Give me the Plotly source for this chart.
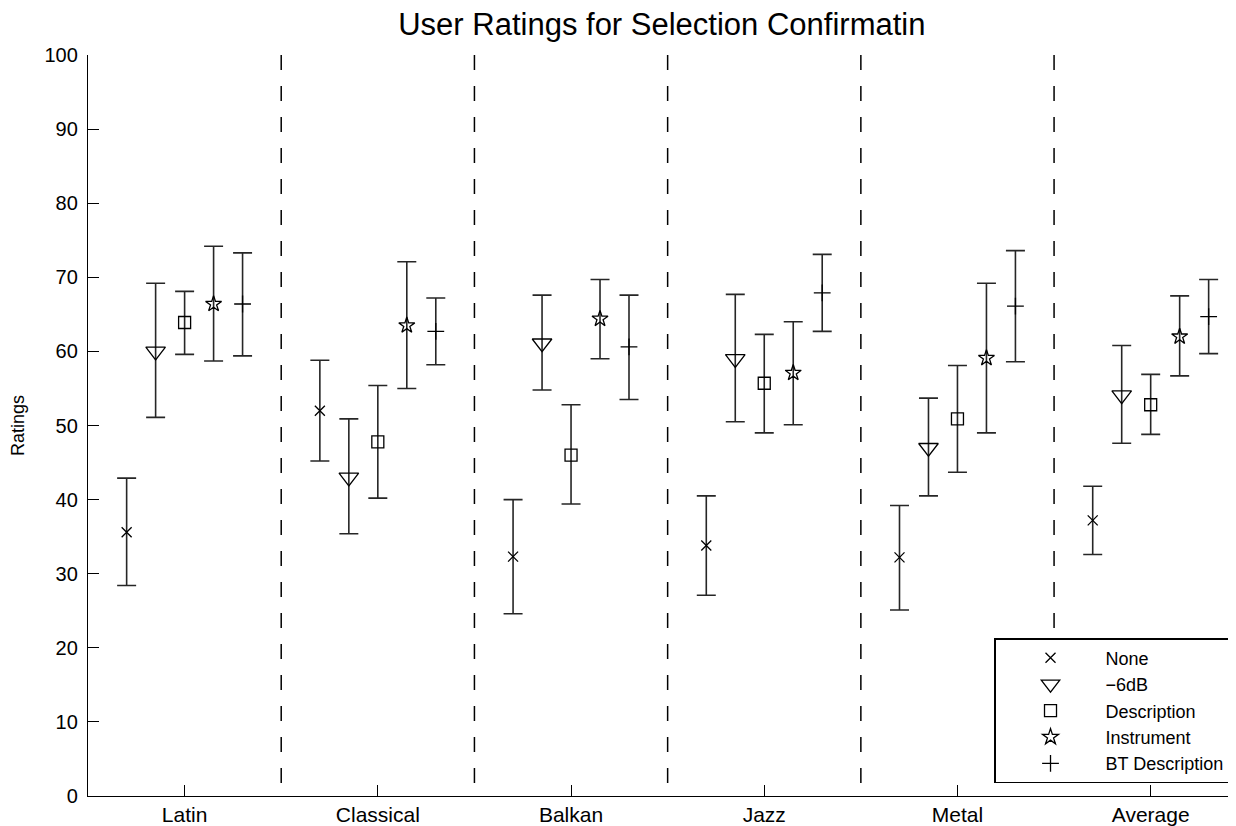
import plotly.graph_objects as go

categories = ["Latin", "Classical", "Balkan", "Jazz", "Metal", "Average"]
series_names = ["None", "\u22126dB", "Description", "Instrument", "BT Description"]

none_mean = [35.6, 52.0, 32.3, 33.8, 32.2, 37.2]
none_hi = [42.9, 58.8, 40.0, 40.5, 39.2, 41.8]
none_lo = [28.4, 45.2, 24.6, 27.1, 25.1, 32.6]

db6_mean = [60.0, 43.0, 61.1, 59.0, 47.0, 54.1]
db6_hi = [69.2, 50.9, 67.6, 67.7, 53.7, 60.8]
db6_lo = [51.1, 35.4, 54.8, 50.5, 40.5, 47.6]

desc_mean = [63.9, 47.8, 46.0, 55.7, 50.9, 52.8]
desc_hi = [68.1, 55.4, 52.8, 62.3, 58.1, 56.9]
desc_lo = [59.6, 40.2, 39.4, 49.0, 43.7, 48.8]

inst_mean = [66.4, 63.5, 64.4, 57.1, 59.1, 62.0]
inst_hi = [74.2, 72.1, 69.7, 64.0, 69.2, 67.5]
inst_lo = [58.7, 55.0, 59.0, 50.1, 49.0, 56.7]

bt_mean = [66.4, 62.7, 60.6, 67.9, 66.1, 64.7]
bt_hi = [73.3, 67.2, 67.6, 73.1, 73.6, 69.7]
bt_lo = [59.4, 58.2, 53.5, 62.7, 58.6, 59.7]

y_ticks = list(range(0, 101, 10))

series = [
    (none_mean, none_hi, none_lo, "x-thin-open", 10),
    (db6_mean, db6_hi, db6_lo, "triangle-down-open", 17),
    (desc_mean, desc_hi, desc_lo, "square-open", 12),
    (inst_mean, inst_hi, inst_lo, "star-open", 12),
    (bt_mean, bt_hi, bt_lo, "cross-thin-open", 12),
]

FONT = "Liberation Sans, Arial, Helvetica, sans-serif"
group_step = 0.15

fig = go.Figure()
n_series = len(series)
for k, (mean, hi, lo, sym, size) in enumerate(series):
    off = (k - (n_series - 1) / 2) * group_step
    xs = [i + 1 + off for i in range(len(categories))]
    fig.add_trace(go.Scatter(
        x=xs, y=mean, mode="markers", name=series_names[k],
        marker=dict(symbol=sym, size=size, color="black",
                    line=dict(color="black", width=1.3)),
        error_y=dict(type="data", symmetric=False,
                     array=[h - m for h, m in zip(hi, mean)],
                     arrayminus=[m - l for m, l in zip(mean, lo)],
                     color="#262626", thickness=1.6, width=9.5),
    ))

shapes = []
for i in range(len(categories) - 1):
    xd = i + 1.5
    shapes.append(dict(type="line", xref="x", yref="y", x0=xd, x1=xd,
                       y0=100, y1=0, layer="below",
                       line=dict(color="black", width=1.5, dash="15px,16px")))

fig.update_layout(
    width=1236, height=826,
    margin=dict(l=80, r=0, t=47, b=38, autoexpand=False),
    paper_bgcolor="white", plot_bgcolor="white",
    font=dict(family=FONT, size=20, color="black"),
    title=dict(text="User Ratings for Selection Confirmatin", x=0.529, xanchor="center",
               y=0.9806, yanchor="middle", font=dict(size=31, family=FONT)),
    shapes=shapes,
    showlegend=True,
    legend=dict(x=0.9879, xanchor="right", y=0.0175, yanchor="bottom",
                bgcolor="white", bordercolor="black", borderwidth=1.5,
                font=dict(size=18, family=FONT), itemwidth=100,
                tracegroupgap=0),
)
fig.update_xaxes(range=[0.5, 6.483], tickmode="array",
                 tickvals=[i + 1 for i in range(len(categories))], ticktext=categories,
                 ticks="inside", ticklen=11, tickwidth=1.3, tickcolor="black",
                 showline=True, linecolor="black", linewidth=1.3, automargin=False,
                 showgrid=False, zeroline=False, tickfont=dict(size=21))
fig.update_yaxes(range=[0, 100], tickmode="array", tickvals=y_ticks,
                 ticks="inside", ticklen=11, tickwidth=1.3, tickcolor="black",
                 showline=True, linecolor="black", linewidth=1.3, automargin=False,
                 ticklabelstandoff=5,
                 showgrid=False, zeroline=False, tickfont=dict(size=20),
                 title=dict(text="Ratings", font=dict(size=18), standoff=16))

fig.write_html("out.html")
